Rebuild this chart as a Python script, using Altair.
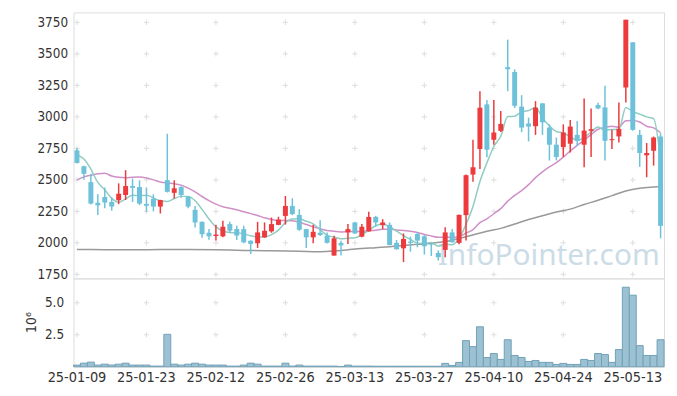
import altair as alt
import pandas as pd

dates = ["25-01-09","25-01-10","25-01-13","25-01-14","25-01-15","25-01-16","25-01-17","25-01-20","25-01-21","25-01-22",
         "25-01-23","25-01-24","25-01-31","25-02-03","25-02-04","25-02-05","25-02-06","25-02-07","25-02-10","25-02-11",
         "25-02-12","25-02-13","25-02-14","25-02-17","25-02-18","25-02-19","25-02-20","25-02-21","25-02-24","25-02-25",
         "25-02-26","25-02-27","25-02-28","25-03-04","25-03-05","25-03-06","25-03-07","25-03-10","25-03-11","25-03-12",
         "25-03-13","25-03-14","25-03-17","25-03-18","25-03-19","25-03-20","25-03-21","25-03-24","25-03-25","25-03-26",
         "25-03-27","25-03-28","25-03-31","25-04-01","25-04-02","25-04-03","25-04-04","25-04-07","25-04-08","25-04-09",
         "25-04-10","25-04-11","25-04-14","25-04-15","25-04-16","25-04-17","25-04-18","25-04-21","25-04-22","25-04-23",
         "25-04-24","25-04-25","25-04-28","25-04-29","25-04-30","25-05-02","25-05-07","25-05-08","25-05-09","25-05-12",
         "25-05-13","25-05-14","25-05-15","25-05-16","25-05-19"]

opens = [2734,2608,2482,2318,2364,2325,2338,2380,2451,2443,
         2309,2350,2288,2498,2397,2443,2365,2262,2167,2080,
         2054,2052,2149,2110,2109,2017,1997,2044,2091,2143,
         2214,2293,2222,2109,2044,2080,2057,1899,2000,2083,
         2162,2049,2091,2206,2141,2143,2000,1957,2010,2070,
         2052,1990,1920,1944,2083,2000,2220,2542,2745,3099,
         2818,2889,3395,3356,3081,2947,2926,3107,2915,2779,
         2760,2787,2857,2779,2889,3094,3075,2815,2845,3233,
         3592,2857,2695,2731,2844]
highs = [2752,2612,2548,2385,2440,2360,2472,2577,2510,2496,
         2440,2385,2342,2866,2497,2450,2370,2292,2170,2110,
         2143,2175,2167,2135,2136,2020,2167,2162,2201,2207,
         2372,2354,2267,2112,2143,2180,2083,2057,2017,2149,
         2167,2149,2246,2214,2188,2162,2023,2075,2050,2083,
         2062,1995,1939,2123,2110,2225,2542,2818,3204,3133,
         3133,3046,3613,3377,3172,2994,3125,3110,2941,2836,
         2941,2975,2968,3146,3067,3112,3246,2897,3115,3771,
         3592,2897,2792,2844,2870]
lows = [2629,2500,2305,2222,2275,2255,2307,2340,2325,2300,
        2248,2250,2233,2400,2352,2358,2275,2122,2040,2025,
        2018,2045,2078,2023,1997,1912,1960,2040,2080,2140,
        2145,2220,2096,1960,1997,2055,1995,1899,1900,1991,
        2070,2045,2090,2128,2109,1980,1945,1847,1930,1965,
        1907,1895,1860,1886,2000,1990,2018,2485,2587,2679,
        2779,2880,3204,3070,2878,2805,2857,2857,2653,2655,
        2682,2718,2771,2600,2682,3060,2653,2745,2797,3115,
        2890,2603,2521,2613,2036]
closes = [2634,2548,2312,2298,2320,2288,2390,2451,2437,2312,
          2295,2288,2340,2405,2433,2380,2288,2162,2068,2052,
          2066,2128,2097,2058,2004,1992,2083,2096,2149,2185,
          2293,2228,2104,2044,2088,2062,2000,2036,1980,2109,
          2075,2128,2206,2162,2162,1983,1950,2031,2000,2018,
          1973,1985,1886,2083,2005,2222,2537,2600,3073,2739,
          2876,2944,3378,3088,2915,2923,3073,2957,2779,2682,
          2876,2923,2810,2891,2902,3067,2810,2823,2905,3771,
          2897,2713,2713,2836,2135]
volumes_m = [0.13,0.28,0.36,0.13,0.20,0.13,0.20,0.28,0.13,0.13,
             0.13,0.05,0.05,2.53,0.20,0.13,0.20,0.28,0.20,0.13,
             0.13,0.13,0.05,0.05,0.13,0.28,0.20,0.05,0.05,0.05,
             0.28,0.05,0.13,0.05,0.05,0.05,0.05,0.05,0.02,0.13,
             0.05,0.05,0.05,0.04,0.04,0.04,0.04,0.04,0.04,0.04,
             0.04,0.04,0.04,0.26,0.10,0.34,2.04,1.57,3.12,0.72,
             1.03,0.57,2.11,0.88,0.72,0.41,0.49,0.34,0.34,0.18,
             0.26,0.18,0.18,0.57,0.49,1.03,0.95,0.34,1.34,6.21,
             5.59,1.65,0.88,0.88,2.11]
ma5 = [2697,2665,2585,2480,2422,2353,2322,2349,2377,2376,
       2377,2357,2334,2328,2352,2369,2369,2334,2266,2190,
       2127,2095,2082,2080,2071,2056,2047,2047,2065,2101,
       2161,2190,2192,2171,2151,2105,2060,2046,2033,2037,
       2040,2066,2100,2136,2147,2128,2093,2058,2027,1998,
       1996,2003,1974,1989,1986,2036,2147,2289,2487,2634,
       2765,2846,3002,3005,3040,3050,3075,2991,2929,2883,
       2873,2843,2814,2836,2880,2919,2896,2899,2901,3075,
       3041,3022,3000,2986,2659]
ma20 = [2500,2524,2537,2548,2553,2530,2520,2517,2521,2522,
        2515,2500,2483,2475,2470,2458,2435,2405,2368,2335,
        2307,2286,2275,2263,2247,2232,2217,2199,2185,2178,
        2178,2175,2164,2146,2128,2112,2098,2092,2087,2090,
        2091,2091,2096,2101,2109,2109,2102,2099,2092,2083,
        2067,2055,2044,2046,2042,2050,2077,2105,2160,2191,
        2231,2272,2331,2377,2415,2462,2518,2564,2603,2636,
        2681,2728,2774,2815,2859,2902,2915,2926,2918,2970,
        2971,2959,2926,2913,2874]
ma_long_dates = ["25-01-09","25-01-15","25-01-21","25-01-31","25-02-06","25-02-12","25-02-18","25-02-24",
                 "25-02-28","25-03-06","25-03-10","25-03-12","25-03-14","25-03-18","25-03-20","25-03-24",
                 "25-03-26","25-03-28","25-04-01","25-04-03","25-04-07","25-04-09","25-04-11","25-04-15",
                 "25-04-17","25-04-21","25-04-23","25-04-25","25-04-29","25-05-02","25-05-08","25-05-12",
                 "25-05-14","25-05-16","25-05-19"]
ma_long = [1947,1946,1945,1947,1948,1946,1940,1937,
           1933,1930,1935,1945,1955,1962,1970,1980,
           1988,1997,2010,2035,2063,2092,2115,2150,
           2185,2215,2245,2268,2305,2338,2375,2412,
           2433,2443,2447]

x_labels = ["25-01-09","25-01-23","25-02-12","25-02-26","25-03-13","25-03-27","25-04-10","25-04-24","25-05-13"]
price_ticks = [1750, 2000, 2250, 2500, 2750, 3000, 3250, 3500, 3750]
vol_ticks = [2.5, 5.0]

RED = "#ec3a3d"
BLUE = "#6dc2da"
FONT = "DejaVu Sans Condensed"

df = pd.DataFrame({"date": dates, "open": opens, "high": highs, "low": lows,
                   "close": closes, "vol": volumes_m, "ma5": ma5, "ma20": ma20})
df_long = pd.DataFrame({"date": ma_long_dates, "ma": ma_long})
grid_top = pd.DataFrame([{"date": d, "v": v} for d in x_labels for v in price_ticks])
grid_bot = pd.DataFrame([{"date": d, "v": v} for d in x_labels for v in vol_ticks])
wm = pd.DataFrame({"t": ["InfoPointer.com"]})

xscale = alt.Scale(type="band", domain=dates, paddingInner=0, paddingOuter=0)
X = alt.X("date:O", sort=dates, scale=xscale, axis=None, title=None)

yscale = alt.Scale(domain=[1718, 3829], nice=False, zero=False)
yaxis = alt.Axis(values=price_ticks, format="d", grid=False, ticks=False, domain=False, labelPadding=6,
                 labelFontSize=13.5, labelFont=FONT, labelColor="#333333")


def Y(field):
    return alt.Y(field, type="quantitative", scale=yscale, axis=yaxis, title=None)


cross = "M-1,0H1M0,-1V1"
GRID = "#dedede"

g1 = alt.Chart(grid_top).mark_point(shape=cross, size=30, filled=False, color=GRID,
                                    strokeWidth=1, opacity=1).encode(x=X, y=Y("v"))
wmark = alt.Chart(wm).mark_text(align="left", baseline="alphabetic", font="Noto Sans", fontSize=30,
                                color="#cbdce7").encode(text="t:N", x=alt.value(367), y=alt.value(255))
l60 = alt.Chart(df_long).mark_line(color="#999999", strokeWidth=1.5, interpolate="monotone").encode(x=X, y=Y("ma"))
l20 = alt.Chart(df).mark_line(color="#cf90c8", strokeWidth=1.5, interpolate="monotone").encode(x=X, y=Y("ma20"))
l5 = alt.Chart(df).mark_line(color="#8fcdc3", strokeWidth=1.5, interpolate="monotone").encode(x=X, y=Y("ma5"))
col = alt.condition("datum.close >= datum.open", alt.value(RED), alt.value(BLUE))
wick = alt.Chart(df).mark_rule(strokeWidth=1.5).encode(x=X, y=Y("low"), y2="high", color=col)
body = alt.Chart(df).mark_bar(size=5).encode(x=X, y=Y("open"), y2="close", color=col)

top = alt.layer(g1, wmark, l60, l20, l5, wick, body).properties(width=595, height=268)

vscale = alt.Scale(domain=[0, 6.9], nice=False, zero=True)
vaxis = alt.Axis(values=vol_ticks, format=".1f", grid=False, ticks=False, domain=False, labelPadding=10,
                 labelFontSize=13.5, labelFont=FONT, labelColor="#333333",
                 title="10⁶", titleFont=FONT, titleFontSize=14, titleFontWeight="normal",
                 titleColor="#333333", titleX=-42, titleY=44, titleAngle=270,
                 titleAlign="center", titleBaseline="middle")
Xb = alt.X("date:O", sort=dates, scale=xscale, title=None,
           axis=alt.Axis(values=x_labels, labelAngle=0, ticks=False, domain=False, labelPadding=4,
                         labelFontSize=14.5, labelFont=FONT, labelColor="#333333"))
g2 = alt.Chart(grid_bot).mark_point(shape=cross, size=30, filled=False, color=GRID,
                                    strokeWidth=1, opacity=1).encode(x=Xb, y=alt.Y("v:Q", scale=vscale, axis=vaxis))
vbars = alt.Chart(df).mark_bar(fill="#9bc1d2", stroke="#72a1b7", strokeWidth=1).encode(
    x=Xb, y=alt.Y("vol:Q", scale=vscale, axis=vaxis))
bottom = alt.layer(g2, vbars).properties(width=595, height=89)

chart = alt.vconcat(top, bottom, spacing=0, bounds="flush").properties(
    padding={"left": 16, "top": 2, "right": 4, "bottom": 4}
).configure_view(stroke="#e3e3e3", strokeWidth=1).configure(background="white")

chart.save("out.html", embed_options={"renderer": "svg", "actions": False})
